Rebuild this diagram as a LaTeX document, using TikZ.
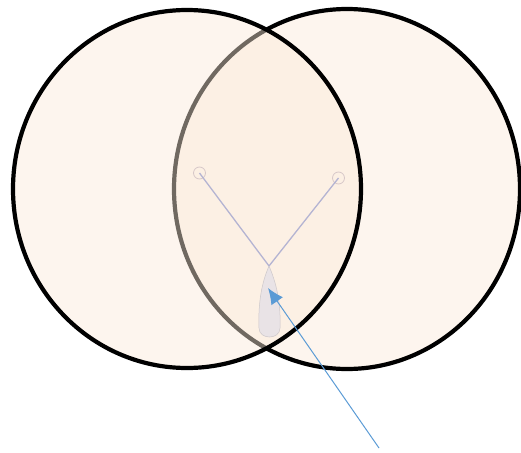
\documentclass[tikz,border=0pt]{standalone}
\usepackage{xcolor}
\usetikzlibrary{arrows.meta,positioning,calc}
\definecolor{vennpeach}{RGB}{250,233,217}
\definecolor{tetherline}{RGB}{180,180,210}
\definecolor{ringline}{RGB}{215,200,200}
\definecolor{leafgray}{RGB}{233,227,230}
\definecolor{callblue}{RGB}{91,155,213}

\begin{document}
\begin{tikzpicture}[x=1pt,y=-1pt,>=Latex]
  \useasboundingbox (0,0) rectangle (521,452);
  % two overlapping discs, left one laid over the right one
  \draw[line width=4.2pt,fill=vennpeach,fill opacity=0.45] (347,189) ellipse [x radius=173,y radius=180];
  \draw[line width=4.2pt,fill=vennpeach,fill opacity=0.45] (187,189) ellipse [x radius=174,y radius=179];
  \node[circle,draw=ringline,line width=0.8pt,minimum size=12pt,inner sep=0pt] (ringL) at (199.5,173) {};
  \node[circle,draw=ringline,line width=0.8pt,minimum size=12pt,inner sep=0pt] (ringR) at (338.5,178) {};
  \coordinate (knot) at (269,266);
  \draw[tetherline,line width=1.3pt] (ringL.center) -- (knot) -- (ringR.center);
  \draw[draw=leafgray!88!black,line width=0.5pt,fill=leafgray] (knot) .. controls (262,282) and (258,302) .. (259,328) .. controls (259,340) and (280,340) .. (280,328) .. controls (281,302) and (276,282) .. (knot);
  \coordinate (leaftip) at (268,288);
  \coordinate (tail) at (379,448);
  \draw[->,callblue,line width=1pt,-{Latex[length=16pt,width=14pt]}] (tail) -- (leaftip);
\end{tikzpicture}
\end{document}
